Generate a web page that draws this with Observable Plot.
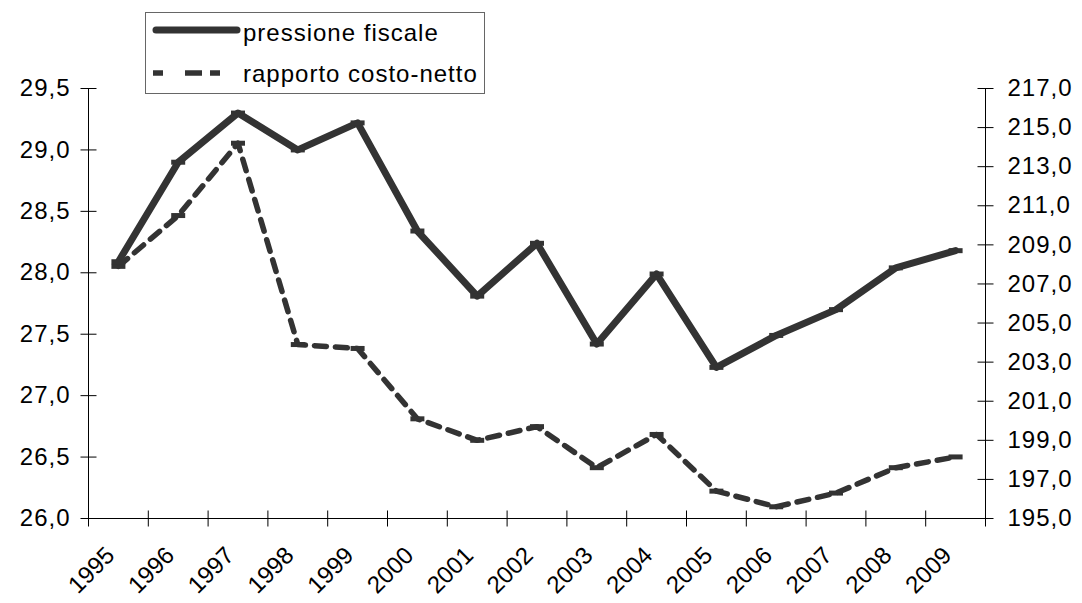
<!DOCTYPE html>
<html>
<head>
<meta charset="utf-8">
<script src="https://cdn.jsdelivr.net/npm/d3@7"></script>
<script src="https://cdn.jsdelivr.net/npm/@observablehq/plot@0.6"></script>
<style>
  body { margin: 0; background: #fff; font-family: "Liberation Sans", Arial, sans-serif; }
  #wrap { position: relative; width: 1082px; height: 603px; overflow: hidden; }
  #legend { position: absolute; left: 145px; top: 12px; letter-spacing: 1px; }
  .xlab text { letter-spacing: 0px; }
</style>
</head>
<body>
<div id="wrap">
  <div id="chart"></div>
  <svg id="legend" width="340" height="82">
    <rect x="0.5" y="0.5" width="339" height="81" fill="#fff" stroke="#666" stroke-width="1"></rect>
    <line x1="11" y1="18" x2="92" y2="18" stroke="#333" stroke-width="7" stroke-linecap="round"></line>
    <text x="98" y="29" font-size="24" fill="#000">pressione fiscale</text>
    <line x1="8" y1="61" x2="76" y2="61" stroke="#333" stroke-width="5.5" stroke-dasharray="10,22,17,8,10,100"></line>
    <text x="98" y="70" font-size="24" fill="#000">rapporto costo-netto</text>
  </svg>
</div>
<script>
const years = ["1995","1996","1997","1998","1999","2000","2001","2002","2003","2004","2005","2006","2007","2008","2009"];
const pressione = [28.09, 28.90, 29.30, 29.00, 29.22, 28.34, 27.81, 28.24, 27.42, 27.99, 27.23, 27.49, 27.70, 28.04, 28.18];
const rapporto = [207.9, 210.5, 214.2, 203.9, 203.7, 200.1, 199.0, 199.7, 197.6, 199.3, 196.4, 195.6, 196.3, 197.6, 198.15];
const leftTicks = [26.0, 26.5, 27.0, 27.5, 28.0, 28.5, 29.0, 29.5];
const rightTicks = [195, 197, 199, 201, 203, 205, 207, 209, 211, 213, 215, 217];

const L = [26, 29.5], R = [195, 217];
const toLeft = v => L[0] + (v - R[0]) / (R[1] - R[0]) * (L[1] - L[0]);
const fromLeft = v => R[0] + (v - L[0]) / (L[1] - L[0]) * (R[1] - R[0]);
const fmt = v => d3.format(".1f")(v).replace(".", ",");

const dataP = years.map((y, i) => ({i: i + 0.5, v: pressione[i]}));
const dataR = years.map((y, i) => ({i: i + 0.5, v: toLeft(rapporto[i])}));
const bounds = d3.range(years.length + 1);

const hTick = {draw(ctx) { ctx.moveTo(-8, 0); ctx.lineTo(8, 0); }};
const vTick = {draw(ctx) { ctx.moveTo(0, -8); ctx.lineTo(0, 8); }};
const marker = {draw(ctx) { ctx.rect(-7, -2.5, 14, 5); }};

const chart = Plot.plot({
  width: 1082,
  height: 603,
  marginLeft: 88,
  marginRight: 97,
  marginTop: 88,
  marginBottom: 85,
  x: {domain: [0, years.length], axis: null},
  y: {domain: L, axis: null},
  style: {fontFamily: "'Liberation Sans', Arial, sans-serif", fontSize: "24px", letterSpacing: "1px", color: "#000", background: "#fff"},
  marks: [
    Plot.axisY(leftTicks, {anchor: "left", label: null, tickSize: 0, tickPadding: 18, tickFormat: fmt, fontSize: 24, fill: "#000"}),
    Plot.axisY(rightTicks.map(toLeft), {anchor: "right", label: null, tickSize: 0, tickPadding: 22, tickFormat: d => fmt(fromLeft(d)), fontSize: 24, fill: "#000"}),
    Plot.ruleX([0], {y1: L[0], y2: L[1], stroke: "#000", strokeWidth: 1}),
    Plot.ruleX([years.length], {y1: L[0], y2: L[1], stroke: "#000", strokeWidth: 1}),
    Plot.ruleY([L[0]], {x1: 0, x2: years.length, stroke: "#000", strokeWidth: 1}),
    Plot.dot(leftTicks, {y: d => d, frameAnchor: "left", symbol: hTick, stroke: "#000", strokeWidth: 1, fill: "none"}),
    Plot.dot(rightTicks.map(toLeft), {y: d => d, frameAnchor: "right", symbol: hTick, stroke: "#000", strokeWidth: 1, fill: "none"}),
    Plot.dot(bounds, {x: d => d, frameAnchor: "bottom", symbol: vTick, stroke: "#000", strokeWidth: 1, fill: "none"}),
    Plot.text(years, {x: (d, i) => i + 0.5, frameAnchor: "bottom", text: d => d, rotate: -45, textAnchor: "end", lineAnchor: "middle", dx: -8, dy: 33, fontSize: 24, fill: "#000", className: "xlab"}),
    Plot.line(dataR, {x: "i", y: "v", stroke: "#333", strokeWidth: 5.5, strokeDasharray: "12,9"}),
    Plot.dot(dataR, {x: "i", y: "v", symbol: marker, fill: "#333", stroke: "none"}),
    Plot.line(dataP, {x: "i", y: "v", stroke: "#333", strokeWidth: 7, strokeLinejoin: "round"}),
    Plot.dot(dataP, {x: "i", y: "v", symbol: marker, fill: "#333", stroke: "none"})
  ]
});
document.getElementById("chart").appendChild(chart);
</script>
</body>
</html>
